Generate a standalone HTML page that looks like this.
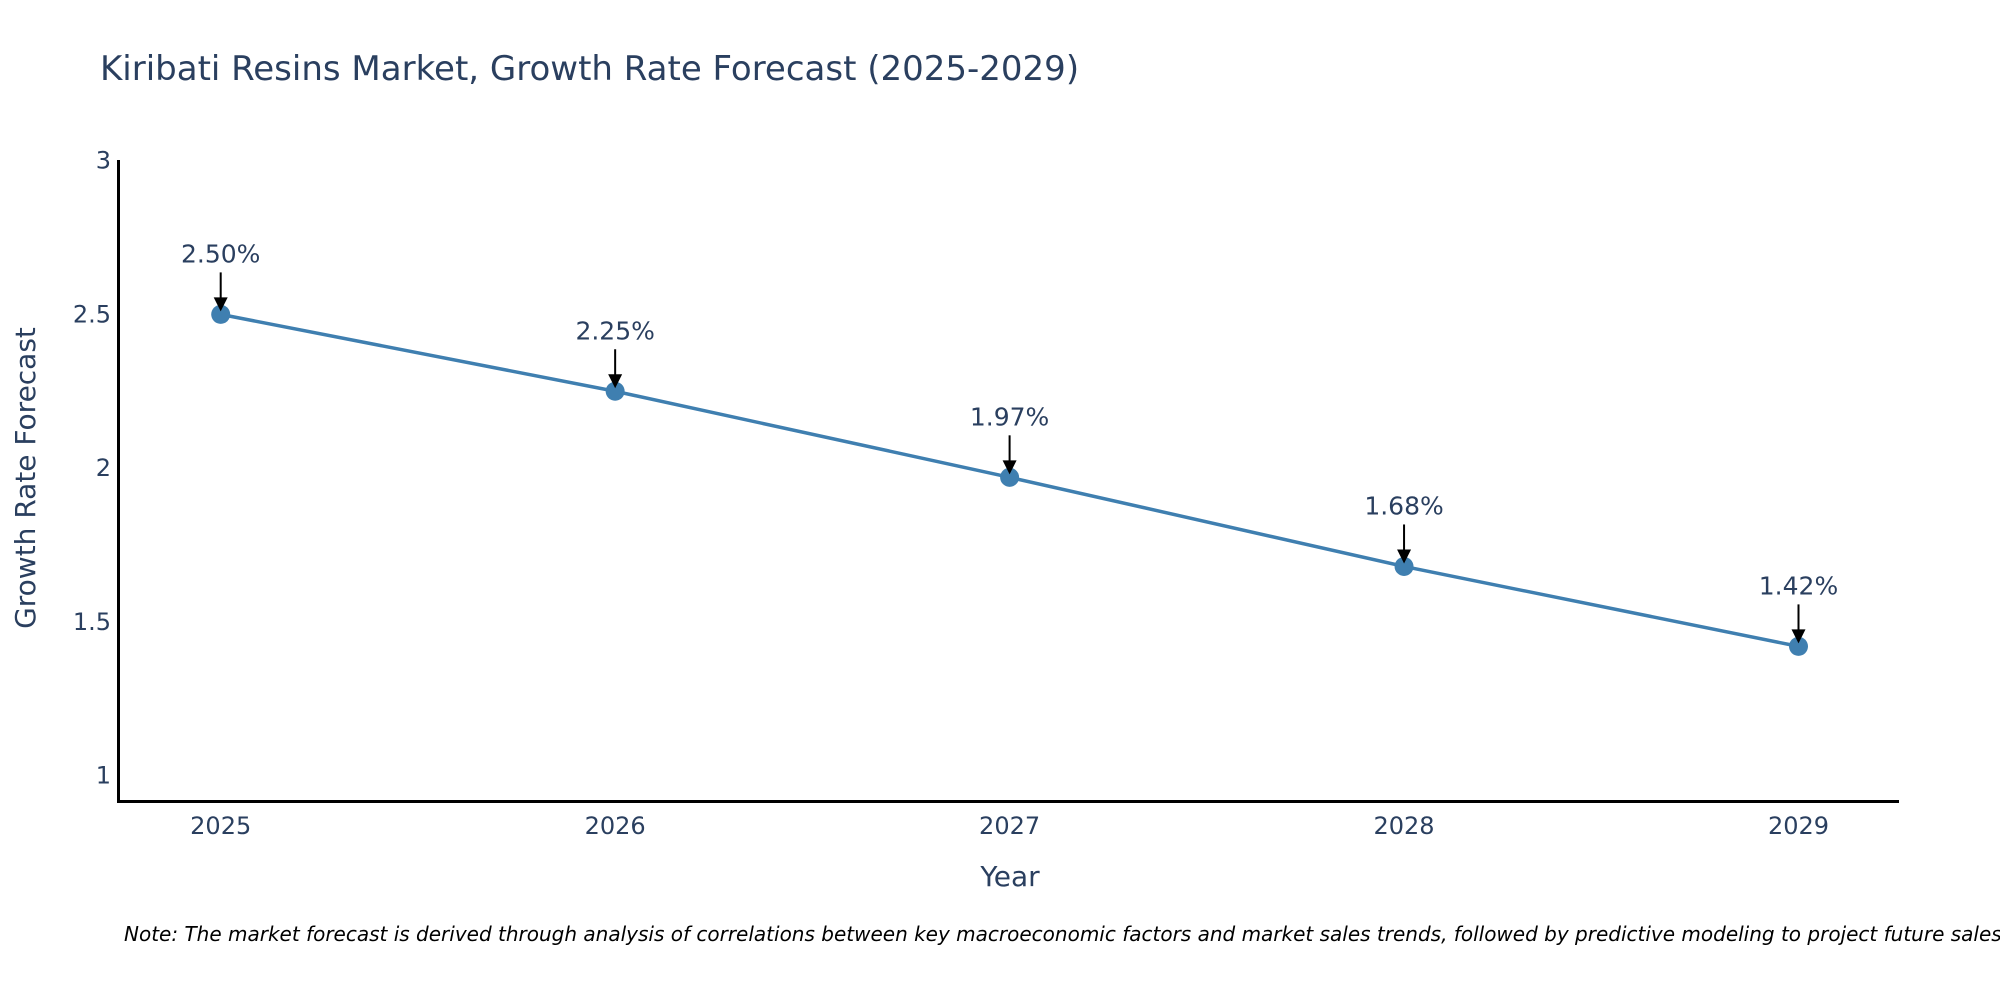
<!DOCTYPE html>
<html><head><meta charset="utf-8"><style>
body{margin:0;background:#fff;}
svg text{font-family:"DejaVu Sans","Liberation Sans",sans-serif;fill:#2a3f5f;}
</style></head><body>
<svg width="2000" height="1000" xmlns="http://www.w3.org/2000/svg">
<text x="100" y="80" font-size="34">Kiribati Resins Market, Growth Rate Forecast (2025-2029)</text>
<g id="ticks"></g>
<g id="series"></g>
<line x1="118.5" y1="160" x2="118.5" y2="802" stroke="#000" stroke-width="3"/>
<line x1="117" y1="801.5" x2="1899" y2="801.5" stroke="#000" stroke-width="3"/>
<text x="1010" y="886" font-size="28" text-anchor="middle">Year</text>
<text transform="translate(35,478) rotate(-90)" font-size="28" text-anchor="middle">Growth Rate Forecast</text>
<text x="124" y="941" font-size="20" font-style="italic" style="fill:#000">Note: The market forecast is derived through analysis of correlations between key macroeconomic factors and market sales trends, followed by predictive modeling to project future sales.</text>
</svg>
<script>
const years=[2025,2026,2027,2028,2029];
const values=[2.50,2.25,1.97,1.68,1.42];
const labels=["2.50%","2.25%","1.97%","1.68%","1.42%"];
const yTicks=[1,1.5,2,2.5,3];
const yTickLabels=["1","1.5","2","2.5","3"];
const NS="http://www.w3.org/2000/svg";
const xs=v=>220.7+(v-2025)*394.45;
const ys=v=>775.5-(v-1)*307.4;
function mk(t,a,p){const e=document.createElementNS(NS,t);for(const k in a)e.setAttribute(k,a[k]);p.appendChild(e);return e;}
const tg=document.getElementById('ticks');
yTicks.forEach((t,i)=>{const e=mk('text',{x:111,y:ys(t)+8,'font-size':24,'text-anchor':'end'},tg);e.textContent=yTickLabels[i];

});
years.forEach(y=>{const e=mk('text',{x:xs(y),y:834,'font-size':24,'text-anchor':'middle'},tg);e.textContent=String(y);

});
const sg=document.getElementById('series');
const pl=mk('polyline',{points:years.map((y,i)=>xs(y)+','+ys(values[i])).join(' '),fill:'none',stroke:'#3f7fb0','stroke-width':3.5},sg);


years.forEach((y,i)=>{const cx=xs(y),cy=ys(values[i]);
const c=mk('circle',{cx:cx,cy:cy,r:9.5,fill:'#3f7fb0'},sg);


const l=mk('line',{x1:cx,y1:cy-42,x2:cx,y2:cy-14,stroke:'#000','stroke-width':2},sg);


const a=mk('polygon',{points:`${cx-7},${cy-17} ${cx+7},${cy-17} ${cx},${cy-3}`,fill:'#000'},sg);


const t=mk('text',{x:cx,y:cy-52,'font-size':25,'text-anchor':'middle'},sg);t.textContent=labels[i];

});
</script>
</body></html>
